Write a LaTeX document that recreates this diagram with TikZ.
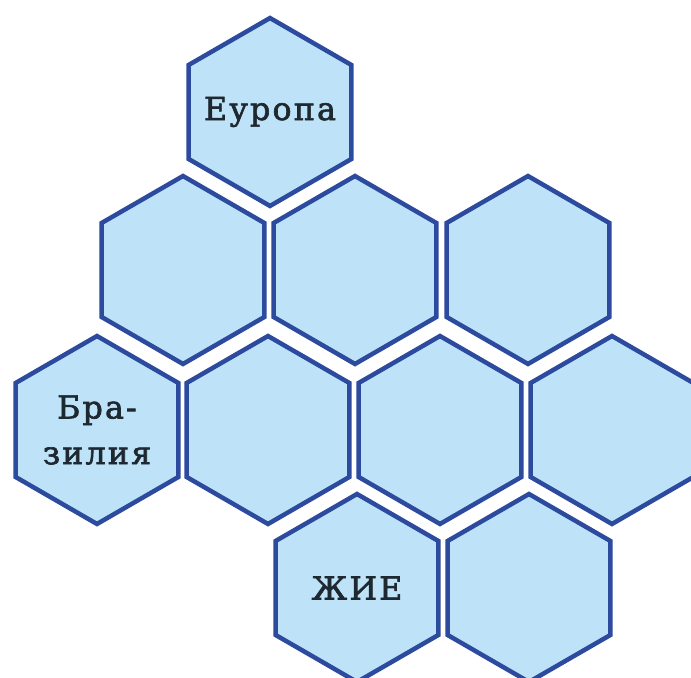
\documentclass[tikz,border=0pt]{standalone}
\usepackage{fontspec}
\newfontfamily\hexfont[LetterSpace=7,FakeBold=2]{DejaVu Serif}
\usetikzlibrary{shapes.geometric}
\definecolor{hexfill}{RGB}{190,227,248}
\definecolor{hexline}{RGB}{44,74,158}
\definecolor{hextext}{RGB}{30,40,48}
\tikzset{
  hexcell/.style={
    shape = regular polygon,
    regular polygon sides = 6,
    shape border rotate = 30,
    draw = hexline,
    fill = hexfill,
    line width = 0.09cm,
    inner sep = 0,
    minimum size = 3.76cm
  },
  hexlabel/.style={
    align = center,
    text = hextext,
    font = \hexfont\fontsize{18}{26}\selectfont
  }
}
\begin{document}
\begin{tikzpicture}[x=0.02cm,y=-0.02cm]
    \useasboundingbox (0,0) rectangle (691,678);
    \clip (0,0) rectangle (691,678);
    \node[hexcell, label={[hexlabel]center:Еуропа}] (europa) at (270,112) {};
    \node[hexcell] (rowtwoA) at (183,270) {};
    \node[hexcell] (rowtwoB) at (355,270) {};
    \node[hexcell] (rowtwoC) at (528,270) {};
    \node[hexcell, label={[hexlabel]center:Бра-\\зилия}] (brazil) at (97,430) {};
    \node[hexcell] (rowthreeB) at (268,430) {};
    \node[hexcell] (rowthreeC) at (440,430) {};
    \node[hexcell] (rowthreeD) at (612,430) {};
    \node[hexcell, label={[hexlabel]center:ЖИЕ}] (zhie) at (357,588) {};
    \node[hexcell] (rowfourB) at (529,588) {};
\end{tikzpicture}
\end{document}
